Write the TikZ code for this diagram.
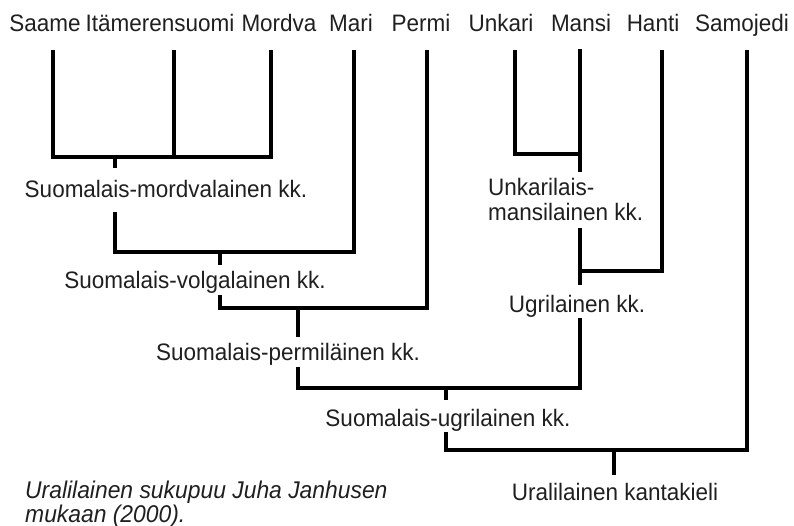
\documentclass[tikz,border=0pt]{standalone}
\usepackage{fontspec}
\setmainfont[FakeStretch=0.945]{Liberation Sans}
\begin{document}
\begin{tikzpicture}[x=1pt,y=-1pt,
  br/.style={line width=3.8pt, line join=miter, draw=black},
  lbl/.style={font=\fontsize{23.8}{26}\selectfont, inner sep=0pt, text=black!88},
  leaf/.style={lbl, anchor=base},
  clade/.style={lbl, anchor=base},
  cladel/.style={lbl, anchor=base west},
  capt/.style={lbl, anchor=base west, font=\fontsize{24.2}{26}\selectfont\itshape}]
\useasboundingbox (0,0) rectangle (794,526);
% leaf labels
\node[leaf] (saame) at (45,32) {Saame};
\node[leaf] (ita)   at (160,32) {Itämerensuomi};
\node[leaf] (mord)  at (279,32) {Mordva};
\node[leaf] (mari)  at (351,32) {Mari};
\node[leaf] (permi) at (421,32) {Permi};
\node[leaf] (unk)   at (501,32) {Unkari};
\node[leaf] (mans)  at (581,32) {Mansi};
\node[leaf] (hant)  at (653,32) {Hanti};
\node[leaf] (samo)  at (742,32) {Samojedi};
% clade labels
\node[clade] (sm) at (166,198) {Suomalais-mordvalainen kk.};
\node[clade] (sv) at (195,288) {Suomalais-volgalainen kk.};
\node[clade] (sp) at (288,360) {Suomalais-permiläinen kk.};
\node[cladel] (um1) at (488,196) {Unkarilais-};
\node[cladel] (um2) at (488,221) {mansilainen kk.};
\node[clade] (ug) at (577,312) {Ugrilainen kk.};
\node[clade] (fu) at (448,426) {Suomalais-ugrilainen kk.};
\node[clade] (ur) at (615,500) {Uralilainen kantakieli};
\node[capt] (cap1) at (25,498) {Uralilainen sukupuu Juha Janhusen};
\node[capt] (cap2) at (25,522) {mukaan (2000).};
% line ends
\coordinate (saT) at (53,50);
\coordinate (itT) at (174,50);
\coordinate (moT) at (271,50);
\coordinate (maT) at (354,50);
\coordinate (peT) at (427,50);
\coordinate (unT) at (515,50);
\coordinate (mnT) at (580,49);
\coordinate (haT) at (662,50);
\coordinate (sjT) at (747,50);
% Suomalais-mordvalainen
\coordinate (smH) at (271,157);
\coordinate (itB) at (174,157);
\coordinate (smA) at (115,157);
\coordinate (smB) at (115,168);
\draw[br] (saT) |- (smH) -- (moT);
\draw[br] (itT) -- (itB);
\draw[br] (smA) -- (smB);
% Suomalais-volgalainen
\coordinate (svU) at (115,212);
\coordinate (svH) at (354,252);
\coordinate (svA) at (220,252);
\coordinate (svB) at (220,265);
\draw[br] (svU) |- (svH) -- (maT);
\draw[br] (svA) -- (svB);
% Suomalais-permiläinen
\coordinate (spU) at (220,295);
\coordinate (spH) at (427,308);
\coordinate (spA) at (298,308);
\coordinate (spB) at (298,337);
\draw[br] (spU) |- (spH) -- (peT);
\draw[br] (spA) -- (spB);
% Unkarilais-mansilainen
\coordinate (umH) at (580,154);
\coordinate (umB) at (580,172);
\draw[br] (unT) |- (umH);
\draw[br] (mnT) -- (umB);
% Ugrilainen
\coordinate (ugU) at (580,228);
\coordinate (ugB) at (580,285);
\coordinate (ugA) at (580,271);
\draw[br] (ugU) -- (ugB);
\draw[br] (ugA) -| (haT);
% Suomalais-ugrilainen
\coordinate (fuU) at (580,318);
\coordinate (fuH) at (298,388);
\coordinate (fuL) at (298,367);
\coordinate (fuA) at (446,388);
\coordinate (fuB) at (446,400);
\draw[br] (fuU) |- (fuH) -- (fuL);
\draw[br] (fuA) -- (fuB);
% Uralilainen
\coordinate (urU) at (446,432);
\coordinate (urH) at (747,450);
\coordinate (urA) at (614,450);
\coordinate (urB) at (614,475);
\draw[br] (urU) |- (urH) -- (sjT);
\draw[br] (urA) -- (urB);
\end{tikzpicture}
\end{document}
